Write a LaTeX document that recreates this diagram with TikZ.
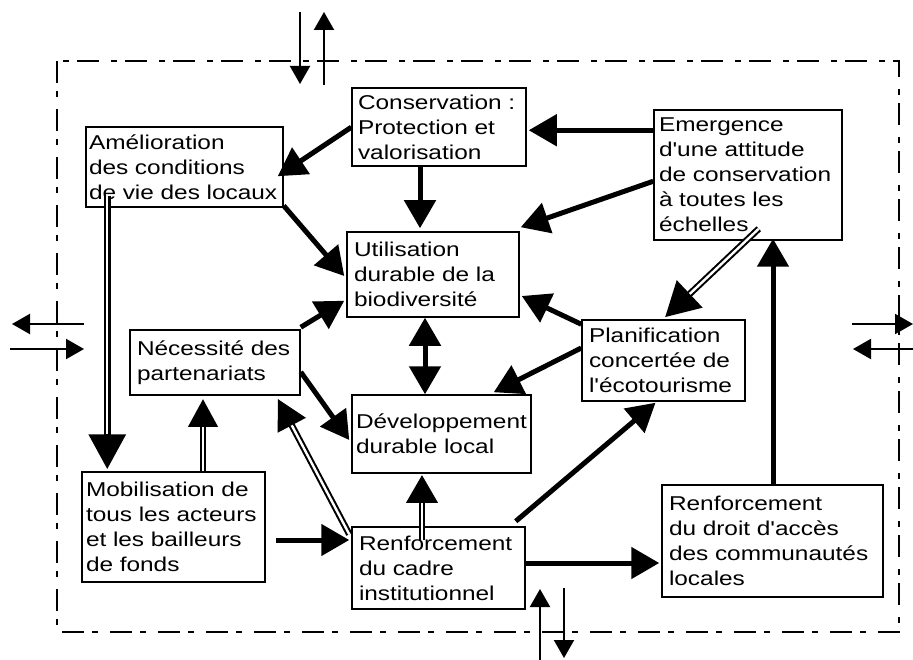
\documentclass[tikz,border=0pt]{standalone}
\usepackage{fontspec}
\setmainfont{Liberation Sans}[FakeStretch=1.22,Ligatures=TeXOff]
\usetikzlibrary{arrows.meta,calc}
\newcommand\dblarr[4]{%
  \draw[line width=6.5pt,-{Triangle[length=#3,width=#4]}] #1 -- #2;
  \draw[line width=2.4pt,white,shorten >=#3] #1 -- #2;}
\begin{document}
\begin{tikzpicture}[x=1pt,y=-1pt,
  box/.style={draw,line width=1.5pt,align=left,inner xsep=7pt,inner ysep=0pt,
    font=\fontsize{20}{25}\selectfont,
    execute at begin node={\hyphenpenalty=10000\exhyphenpenalty=10000}},
  thk/.style={line width=5pt,-{Triangle[length=28pt,width=31pt]}},
  thkboth/.style={line width=5pt,{Triangle[length=28pt,width=31pt]}-{Triangle[length=28pt,width=31pt]}},
  thin/.style={line width=2pt,-{Triangle[length=18pt,width=20pt]}},
  frame/.style={line width=1.8pt,dash pattern=on 22pt off 8pt on 6pt off 12pt}]
\useasboundingbox (0,0) rectangle (913,660);
\draw[frame] (57,61) rectangle (899,632);

\node[box,minimum width=174pt,minimum height=78pt,text width=162pt,inner xsep=6pt] (cons) at (439,127) {Conservation :\\Protection et\\valorisation};
\node[box,minimum width=197pt,minimum height=80pt,text width=191pt,inner xsep=3pt] (amel) at (184.5,167) {Amélioration\\des conditions\\de vie des locaux};
\node[box,minimum width=188pt,minimum height=130pt,text width=178pt,inner xsep=5pt] (emer) at (748,175) {Emergence\\d'une attitude\\de conservation\\à toutes les\\échelles};
\node[box,minimum width=172pt,minimum height=85pt,text width=158pt] (util) at (433,274.5) {Utilisation\\durable de la\\biodiversité};
\node[box,minimum width=170pt,minimum height=65pt,text width=156pt] (nece) at (215,362.5) {Nécessité des\\partenariats};
\node[box,minimum width=163pt,minimum height=81pt,text width=149pt] (plan) at (663.5,360.5) {Planification\\concertée de\\l'écotourisme};
\node[box,minimum width=179pt,minimum height=78pt,text width=171pt,inner xsep=4pt] (dev) at (441.5,434) {Développement\\durable local};
\node[box,minimum width=183pt,minimum height=110pt,text width=175pt,inner xsep=4pt] (mobi) at (173.5,527) {Mobilisation de\\tous les acteurs\\et les bailleurs\\de fonds};
\node[box,minimum width=173pt,minimum height=82pt,text width=159pt] (rcad) at (438.5,568) {Renforcement\\du cadre\\institutionnel};
\node[box,minimum width=221pt,minimum height=112pt,text width=207pt] (rdro) at (772.5,541) {Renforcement\\du droit d'accès\\des communautés\\locales};

% thick arrows
\draw[thk] ($(emer.north west)+(0,21)$) -- ($(cons.north east)+(2,43)$);
\draw[thk] ($(emer.north west)+(0,72)$) -- ($(util.north east)+(1,-4)$);
\draw[thk] ($(cons.north west)+(0,40)$) -- ($(amel.north east)+(-6,50)$);
\draw[thk] ($(cons.south)+(-19,0)$) -- ($(util.north)+(-13,-3)$);
\draw[thk] ($(amel.south east)+(0,-2)$) -- ($(util.west)+(-2,1.5)$);
\draw[thk] ($(nece.north east)+(0,-2)$) -- ($(util.south west)+(-2,-17)$);
\draw[thk] ($(nece.east)+(0,9.5)$) -- ($(dev.west)+(-2,6)$);
\draw[thkboth] ($(util.south)+(-8,0)$) -- ($(dev.north)+(-16.5,0)$);
\draw[thk] ($(plan.north west)+(0,5)$) -- ($(util.east)+(2,21.5)$);
\draw[thk] ($(plan.west)+(0,-12.5)$) -- ($(dev.north east)+(-38,-2)$);
\draw[thk] ($(rcad.north east)+(-10,-5)$) -- ($(plan.south)+(-8,1)$);
\draw[thk] ($(rdro.north)+(0.5,0)$) -- ($(emer.south)+(25,-2)$);
\draw[thk] ($(mobi.east)+(10,13)$) -- ($(rcad.west)+(-2,-28)$);
\draw[thk] ($(rcad.east)+(0,-5)$) -- ($(rdro.west)+(-2,22)$);

% double-line arrows
\dblarr{($(emer.south east)+(-84,-12)$)}{($(plan.north)+(1.5,-2)$)}{34pt}{36pt}
\dblarr{($(amel.south west)+(22,-12)$)}{($(mobi.north west)+(26,-2)$)}{35pt}{36pt}
\dblarr{($(mobi.north)+(29.5,0)$)}{($(nece.south)+(-12,3)$)}{28pt}{28pt}
\dblarr{($(rcad.north west)+(-2,8)$)}{($(nece.south east)+(-23,3)$)}{30pt}{30pt}
\dblarr{($(rcad.north)+(-16.5,14)$)}{($(dev.south)+(-19.5,1)$)}{28pt}{30pt}

% border arrows
\coordinate (t1a) at (300,12); \coordinate (t1b) at (300,84);
\coordinate (t2a) at (324,85); \coordinate (t2b) at (324,12);
\coordinate (l1a) at (84,324); \coordinate (l1b) at (12,324);
\coordinate (l2a) at (10,349); \coordinate (l2b) at (84,349);
\coordinate (r1a) at (852,324); \coordinate (r1b) at (913,324);
\coordinate (r2a) at (913,349); \coordinate (r2b) at (853,349);
\coordinate (b1a) at (540,660); \coordinate (b1b) at (540,589);
\coordinate (b2a) at (564,588); \coordinate (b2b) at (564,658);
\draw[thin] (t1a) -- (t1b);
\draw[thin] (t2a) -- (t2b);
\draw[thin] (l1a) -- (l1b);
\draw[thin] (l2a) -- (l2b);
\draw[thin] (r1a) -- (r1b);
\draw[thin] (r2a) -- (r2b);
\draw[thin] (b1a) -- (b1b);
\draw[thin] (b2a) -- (b2b);
\end{tikzpicture}
\end{document}
